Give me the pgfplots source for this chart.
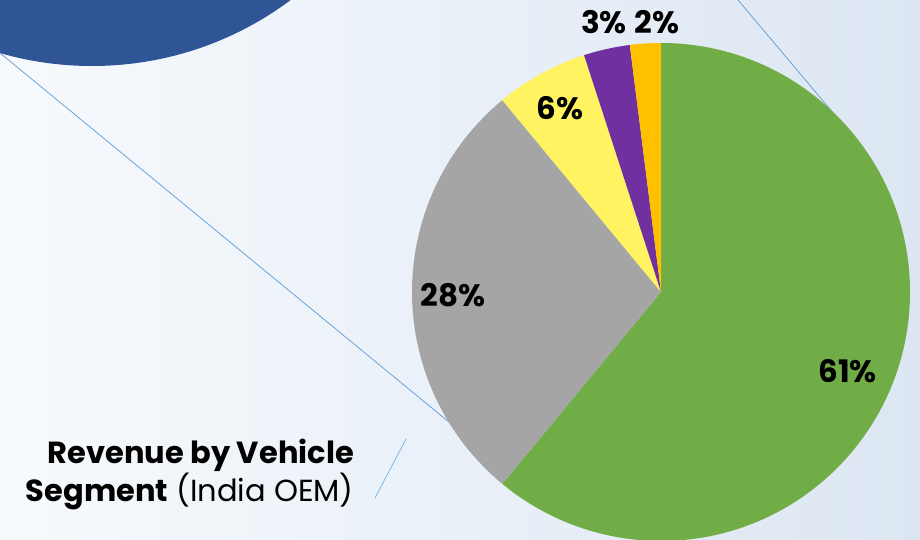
\documentclass[border=0pt]{standalone}
\usepackage{pgfplots}
\pgfplotsset{compat=1.18}
\usepackage{pgfplotstable}
\usepackage{fontspec}
\setmainfont{Poppins}
\definecolor{cGreen}{HTML}{70AD47}
\definecolor{cGray}{HTML}{A5A5A5}
\definecolor{cYellow}{HTML}{FFF362}
\definecolor{cPurple}{HTML}{7030A0}
\definecolor{cOrange}{HTML}{FFC000}
\definecolor{cBlue}{HTML}{2F5597}
\definecolor{cLine}{HTML}{5B9BD5}
\definecolor{cLine2}{HTML}{6AB4EC}
\definecolor{bgL}{HTML}{F7FAFD}
\definecolor{bgR}{HTML}{DCE6F2}

\pgfplotstableread{
share color lx ly
61 cGreen 0.749 -0.317
28 cGray -0.835 -0.012
6 cYellow -0.406 0.739
3 cPurple -0.229 1.084
2 cOrange -0.016 1.084
}\piedata

\begin{document}
\begin{tikzpicture}[x=1pt,y=1pt]
\useasboundingbox (0,0) rectangle (920,540);
\clip (0,0) rectangle (920,540);
\shade[left color=bgL, right color=bgR] (0,0) rectangle (920,540);
\fill[cBlue] (92,806) circle[radius=332];
\draw[cLine, line width=0.7pt] (0,487) -- (500,76);
\draw[cLine, line width=0.7pt] (738,540) -- (845,413);
\draw[cLine2, line width=0.7pt] (406,101) -- (375,42);
\node[anchor=base east, inner sep=0pt, font=\fontsize{30.5}{36}\selectfont\bfseries] at (354,76) {Revenue by Vehicle};
\node[anchor=base east, inner sep=0pt, font=\fontsize{30.5}{36}\selectfont] at (354,38) {\textbf{Segment} (India OEM)};
\begin{axis}[at={(661pt,248pt)}, anchor=origin, x=249pt, y=249pt,
  xmin=-1, xmax=1, ymin=-1, ymax=1, hide axis, clip=false]
\pgfplotstablegetrowsof{\piedata}
\pgfmathtruncatemacro{\nrows}{\pgfplotsretval-1}
\gdef\cum{0}
\pgfplotsforeachungrouped \i in {0,...,\nrows}{
  \pgfplotstablegetelem{\i}{share}\of\piedata \let\val\pgfplotsretval
  \pgfplotstablegetelem{\i}{color}\of\piedata \let\col\pgfplotsretval
  \pgfmathsetmacro{\sA}{90-3.6*\cum}
  \pgfmathsetmacro{\eA}{90-3.6*(\cum+\val)}
  \pgfmathsetmacro{\newcum}{\cum+\val}
  \global\let\cum\newcum
  \edef\temp{\noexpand\fill[\col] (axis cs:0,0) -- (axis cs:{cos(\sA)},{sin(\sA)}) arc[start angle=\sA, end angle=\eA, radius=249pt] -- cycle;}
  \temp
}
\pgfplotsforeachungrouped \i in {0,...,\nrows}{
  \pgfplotstablegetelem{\i}{share}\of\piedata \let\val\pgfplotsretval
  \pgfplotstablegetelem{\i}{lx}\of\piedata \let\lx\pgfplotsretval
  \pgfplotstablegetelem{\i}{ly}\of\piedata \let\ly\pgfplotsretval
  \edef\temp{\noexpand\node[font=\noexpand\fontsize{31}{36}\noexpand\selectfont\noexpand\bfseries, inner sep=0pt] at (axis cs:\lx,\ly) {\val\noexpand\%};}
  \temp
}
\end{axis}
\end{tikzpicture}
\end{document}
